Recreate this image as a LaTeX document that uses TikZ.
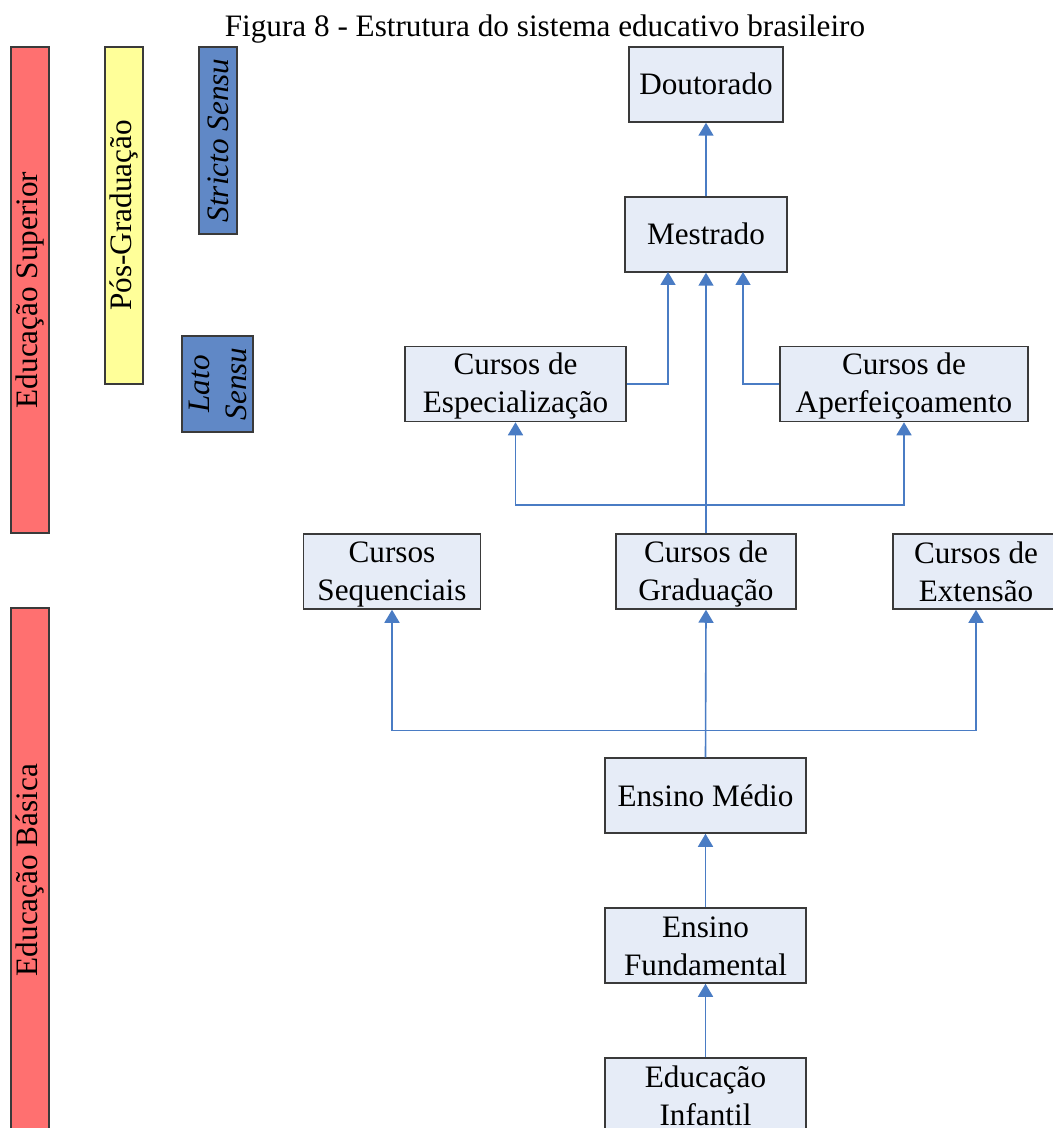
\documentclass[tikz,border=0pt]{standalone}
\usepackage{fontspec}
\setmainfont{Liberation Serif}
\usetikzlibrary{arrows.meta}

\definecolor{boxfill}{HTML}{E6ECF7}
\definecolor{boxline}{HTML}{3A3A3A}
\definecolor{linkblue}{HTML}{4A7CC4}
\definecolor{barred}{HTML}{FF7070}
\definecolor{baryellow}{HTML}{FFFF99}
\definecolor{barblue}{HTML}{6088C6}

% fixed line height so every box places its baselines alike
\newcommand\lstrut{\rule[-2.5pt]{0pt}{15.5pt}}

\tikzset{
  txt/.style={font=\fontsize{15.6pt}{19pt}\selectfont},
  levelbox/.style={txt, draw=boxline, fill=boxfill, line width=0.75pt,
    inner sep=0pt, align=center, minimum height=37.5pt},
  bar/.style={txt, draw=boxline, line width=0.75pt, inner sep=0pt,
    align=center, rotate=90, minimum height=19pt},
  arr/.style={draw=linkblue, line width=0.8pt,
    -{Triangle[width=7.5pt,length=6.5pt]}},
}

\begin{document}
\begin{tikzpicture}[x=0.5pt,y=-0.5pt]
\useasboundingbox (0,0) rectangle (1053,1128);
\clip (0,0) rectangle (1053,1128);

% title
\node[txt, anchor=base] (title) at (545,37) {Figura 8 - Estrutura do sistema educativo brasileiro};

% level bars on the left
\node[bar, fill=barred, minimum width=243pt] (sup) at (30,290) {Educação Superior};
\node[bar, fill=barred, minimum width=262pt] (bas) at (30,870) {Educação Básica};
\node[bar, fill=baryellow, minimum width=168.5pt] (pos) at (124,215.5) {Pós-Graduação};
\node[bar, fill=barblue, minimum width=93.5pt, font=\fontsize{15.6pt}{19pt}\selectfont\itshape] (stricto) at (218,140.5) {Stricto Sensu};
\node[bar, fill=barblue, minimum width=48pt, minimum height=35.5pt, font=\fontsize{15.6pt}{18.5pt}\selectfont\itshape] (lato) at (217.5,384) {Lato\\Sensu};

% courses
\node[levelbox, minimum width=77pt] (dout) at (706,84.5) {\lstrut Doutorado};
\node[levelbox, minimum width=81pt] (mest) at (706,234.5) {\lstrut Mestrado};
\node[levelbox, minimum width=110.5pt] (esp) at (515.5,384) {\lstrut Cursos de\\\lstrut Especialização};
\node[levelbox, minimum width=124pt] (aper) at (904,384) {\lstrut Cursos de\\\lstrut Aperfeiçoamento};
\node[levelbox, minimum width=88.5pt] (seq) at (392,571.5) {\lstrut Cursos\\\lstrut Sequenciais};
\node[levelbox, minimum width=90pt] (grad) at (706,571.5) {\lstrut Cursos de\\\lstrut Graduação};
\node[levelbox, minimum width=83pt] (ext) at (976,571.5) {\lstrut Cursos de\\\lstrut Extensão};
\node[levelbox, minimum width=100.5pt] (med) at (705.5,795.5) {\lstrut Ensino Médio};
\node[levelbox, minimum width=100.5pt] (fund) at (705.5,945.5) {\lstrut Ensino\\\lstrut Fundamental};
\node[levelbox, minimum width=100.5pt] (inf) at (705.5,1095.5) {\lstrut Educação\\\lstrut Infantil};

% junction points
\coordinate (mL) at (668,272);
\coordinate (mR) at (743,272);
\coordinate (jU) at (706,505);
\coordinate (jL) at (706,730.5);

% connectors
\draw[arr] (mest.north) -- (dout.south);
\draw[arr] (esp.east) -| (mL);
\draw[arr] (aper.west) -| (mR);
\draw[arr] (grad.north) -- (mest.south);
\draw[arr] (jU) -| (esp.south);
\draw[arr] (jU) -| (aper.south);
\draw[arr] (med.north) -- (grad.south);
\draw[arr] (jL) -| (seq.south);
\draw[arr] (jL) -| (ext.south);
\draw[arr] (fund.north) -- (med.south);
\draw[arr] (inf.north) -- (fund.south);
\end{tikzpicture}
\end{document}
